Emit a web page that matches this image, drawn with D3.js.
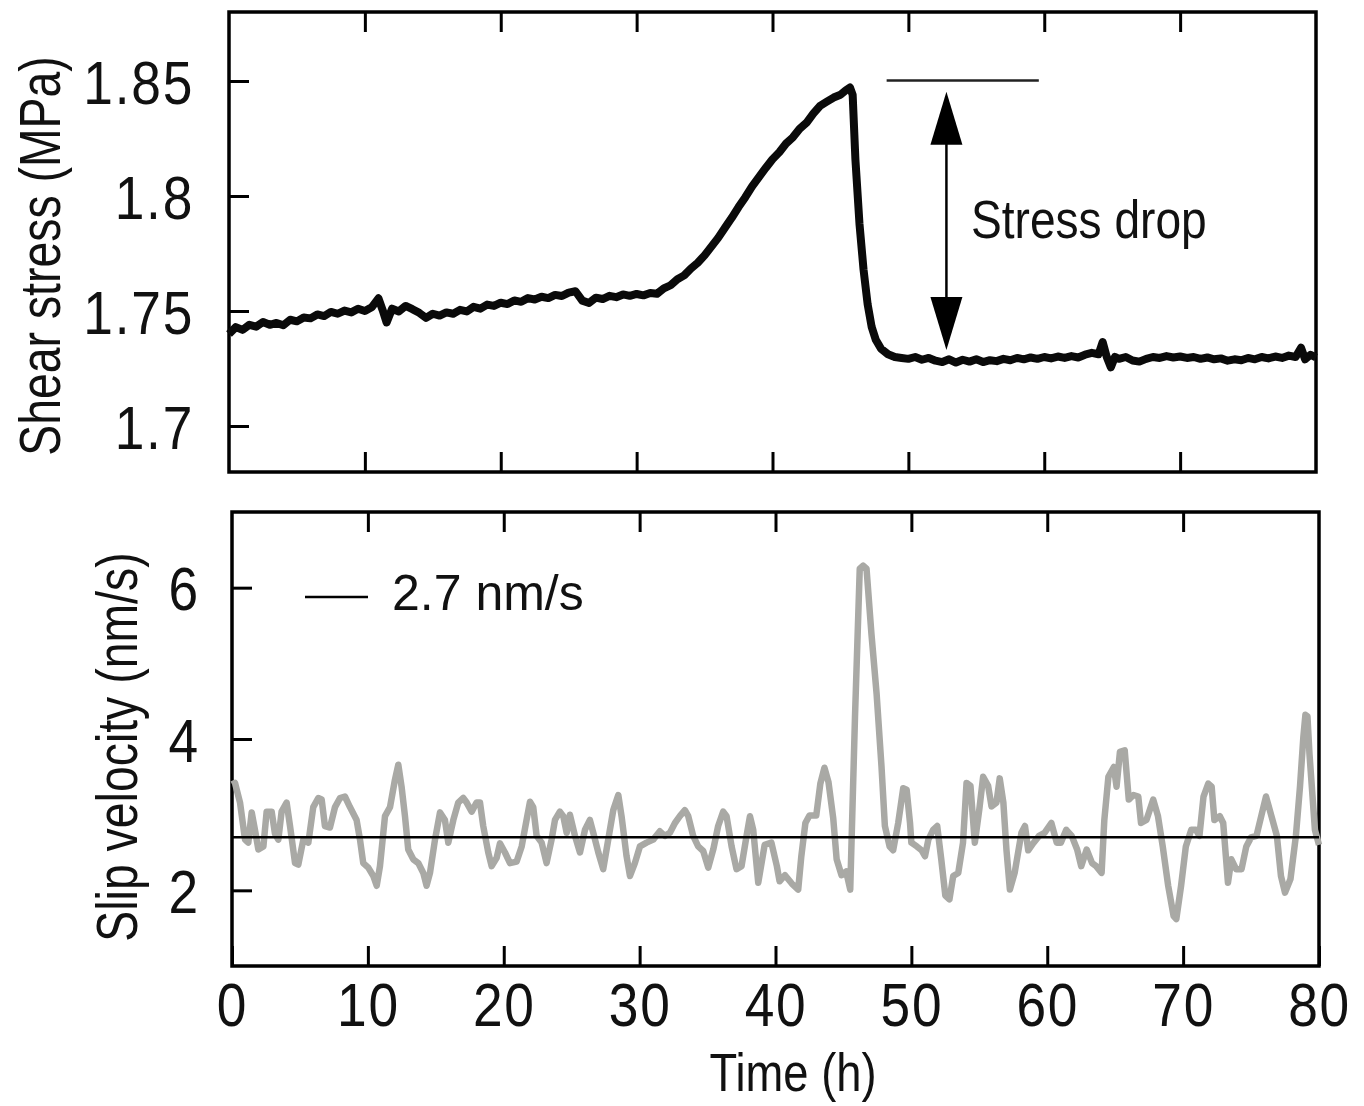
<!DOCTYPE html>
<html lang="en">
<head>
  <meta charset="utf-8">
  <title>Shear stress and slip velocity</title>
  <script src="https://d3js.org/d3.v7.min.js"></script>
  <style>
    body { margin: 0; background: #fff; }
    .frame { fill: none; stroke: #000; stroke-width: 3.5px; }
    .tick line { stroke: #000; stroke-width: 3px; }
    .tick text {
      font-family: "Liberation Sans", Arial, sans-serif;
      font-size: 62px; fill: #111; letter-spacing: 2px;
    }
    .label { font-family: "Liberation Sans", Arial, sans-serif; font-size: 58px; fill: #111; }
    .legend { font-family: "Liberation Sans", Arial, sans-serif; font-size: 50px; fill: #111; }
  </style>
</head>
<body>
<div id="chart"></div>
<script>
var width = 1364,
    height = 1106;

// axis ticks
var timeTicks = [0, 10, 20, 30, 40, 50, 60, 70, 80];
var innerTimeTicks = [10, 20, 30, 40, 50, 60, 70];
var stressTicks = [1.7, 1.75, 1.8, 1.85];
var velocityTicks = [2, 4, 6];

// shear stress (MPa) vs time (h)
var stressTime = [
  0, 0.5, 1, 1.5, 2, 2.5, 3, 3.5, 4, 4.5, 5, 5.5, 6, 6.5, 7, 7.5, 8, 8.5, 9, 9.5,
  10, 10.5, 11, 11.3, 11.6, 12, 12.5, 13, 13.5, 14, 14.5, 15, 15.5, 16, 16.5, 17, 17.5,
  18, 18.5, 19, 19.5, 20, 20.5, 21, 21.5, 22, 22.5, 23, 23.5, 24, 24.5, 25, 25.5, 26,
  26.5, 27, 27.5, 28, 28.5, 29, 29.5, 30, 30.5, 31, 31.5, 32, 32.5, 33, 33.5, 34, 34.5,
  35, 35.5, 36, 36.5, 37, 37.5, 38, 38.5, 39, 39.5, 40, 40.5, 41, 41.5, 42, 42.5, 43,
  43.5, 44, 44.5, 45, 45.4, 45.7, 45.9, 46.1, 46.4, 46.7, 47, 47.3, 47.6, 48, 48.5, 49,
  49.5, 50, 50.5, 51, 51.5, 52, 52.5, 53, 53.5, 54, 54.5, 55, 55.5, 56, 56.5, 57, 57.5,
  58, 58.5, 59, 59.5, 60, 60.5, 61, 61.5, 62, 62.5, 63, 63.5, 64, 64.3, 64.6, 64.9, 65.2,
  65.5, 66, 66.5, 67, 67.5, 68, 68.5, 69, 69.5, 70, 70.5, 71, 71.5, 72, 72.5, 73, 73.5,
  74, 74.5, 75, 75.5, 76, 76.5, 77, 77.5, 78, 78.5, 78.9, 79.2, 79.6, 80
];
var stressValue = [
  1.7400, 1.7430, 1.7418, 1.7440, 1.7432, 1.7452, 1.7440, 1.7448, 1.7438, 1.7462,
  1.7455, 1.7472, 1.7468, 1.7485, 1.7478, 1.7496, 1.7488, 1.7502, 1.7494, 1.7510,
  1.7500, 1.7516, 1.7555, 1.7505, 1.7450, 1.7510, 1.7498, 1.7522, 1.7508, 1.7492,
  1.7470, 1.7488, 1.7480, 1.7494, 1.7488, 1.7505, 1.7498, 1.7518, 1.7510, 1.7528,
  1.7522, 1.7536, 1.7530, 1.7546, 1.7540, 1.7556, 1.7550, 1.7562, 1.7556, 1.7570,
  1.7565, 1.7580, 1.7586, 1.7545, 1.7535, 1.7558, 1.7552, 1.7566, 1.7560, 1.7572,
  1.7566, 1.7574, 1.7568, 1.7578, 1.7575, 1.7598, 1.7612, 1.7638, 1.7655, 1.7685,
  1.7710, 1.7742, 1.7780, 1.7818, 1.7862, 1.7905, 1.7952, 1.7995, 1.8042, 1.8082,
  1.8122, 1.8160, 1.8190, 1.8228, 1.8255, 1.8292, 1.8318, 1.8358, 1.8392, 1.8410,
  1.8428, 1.8440, 1.8460, 1.8472, 1.8440, 1.8160, 1.7880, 1.7680, 1.7530, 1.7430,
  1.7375, 1.7335, 1.7312, 1.7300, 1.7296, 1.7292, 1.7300, 1.7288, 1.7296, 1.7284,
  1.7278, 1.7290, 1.7276, 1.7288, 1.7280, 1.7290, 1.7278, 1.7286, 1.7282, 1.7292,
  1.7286, 1.7296, 1.7290, 1.7298, 1.7292, 1.7300, 1.7294, 1.7302, 1.7296, 1.7304,
  1.7298, 1.7310, 1.7318, 1.7312, 1.7365, 1.7300, 1.7255, 1.7300, 1.7292, 1.7300,
  1.7285, 1.7280, 1.7292, 1.7300, 1.7296, 1.7304, 1.7298, 1.7302, 1.7296, 1.7300,
  1.7292, 1.7298, 1.7290, 1.7294, 1.7284, 1.7290, 1.7286, 1.7296, 1.7290, 1.7300,
  1.7294, 1.7302, 1.7296, 1.7306, 1.7300, 1.7340, 1.7290, 1.7310, 1.7298
];

// slip velocity (nm/s) vs time (h)
var velocityTime = [
  0, 0.22, 0.59, 0.96, 1.2, 1.45, 1.69, 1.94, 2.31, 2.55, 2.92, 3.16, 3.41, 3.65, 4.02,
  4.27, 4.64, 4.88, 5.25, 5.62, 5.98, 6.35, 6.6, 6.84, 7.21, 7.58, 7.95, 8.31, 8.68,
  9.17, 9.42, 9.66, 10.03, 10.4, 10.65, 10.89, 11.26, 11.63, 11.99, 12.24, 12.48, 12.73,
  12.97, 13.34, 13.71, 14.08, 14.32, 14.57, 14.94, 15.31, 15.67, 15.92, 16.29, 16.65,
  17.02, 17.27, 17.64, 18, 18.25, 18.49, 18.86, 19.11, 19.48, 19.72, 20.09, 20.46,
  20.95, 21.32, 21.68, 21.93, 22.17, 22.42, 22.79, 23.15, 23.52, 23.77, 24.13, 24.38,
  24.63, 24.87, 25.24, 25.61, 25.98, 26.34, 26.59, 26.96, 27.32, 27.69, 28.06, 28.43,
  28.67, 29.04, 29.29, 29.65, 30.02, 30.51, 31, 31.49, 31.86, 32.23, 32.6, 32.96, 33.33,
  33.58, 33.94, 34.31, 34.68, 35.05, 35.42, 35.78, 36.15, 36.4, 36.77, 37.13, 37.5,
  37.87, 38.12, 38.36, 38.73, 39.2, 39.7, 40.1, 40.3, 40.7, 41.2, 41.67, 41.9, 42.2,
  42.5, 43, 43.3, 43.6, 43.9, 44.25, 44.5, 44.86, 45.2, 45.5, 45.85, 46.2, 46.45, 46.7,
  47.06, 47.44, 47.8, 48.05, 48.4, 48.66, 49.03, 49.4, 49.65, 49.9, 50, 50.4, 50.75, 51,
  51.25, 51.6, 51.9, 52.2, 52.5, 52.8, 53.08, 53.45, 53.8, 54.06, 54.35, 54.67, 55,
  55.28, 55.65, 55.9, 56.26, 56.5, 56.77, 57, 57.25, 57.6, 58.1, 58.36, 58.6, 59, 59.4,
  59.8, 60.3, 60.7, 61, 61.4, 61.8, 62.2, 62.5, 62.9, 63.3, 63.6, 64, 64.2, 64.5, 64.9,
  65.1, 65.35, 65.7, 66, 66.35, 66.7, 66.9, 67.3, 67.8, 68.15, 68.5, 68.9, 69.3, 69.5,
  69.85, 70.2, 70.6, 70.95, 71.2, 71.5, 71.85, 72.1, 72.3, 72.7, 72.95, 73.3, 73.55,
  73.9, 74.3, 74.65, 75, 75.4, 75.8, 76.1, 76.5, 76.9, 77.2, 77.5, 77.9, 78.3, 78.6,
  78.85, 79, 79.15, 79.3, 79.7, 80
];
var velocityValue = [
  3.40, 3.42, 3.16, 2.67, 2.63, 3.03, 2.80, 2.54, 2.58, 3.04, 3.04, 2.75, 2.67, 3.04, 3.16,
  2.85, 2.36, 2.34, 2.67, 2.63, 3.10, 3.22, 3.20, 2.85, 2.83, 3.10, 3.22, 3.24, 3.10,
  2.93, 2.67, 2.36, 2.30, 2.19, 2.06, 2.32, 2.98, 3.10, 3.46, 3.66, 3.37, 2.98,
  2.54, 2.41, 2.36, 2.23, 2.06, 2.23, 2.67, 3.03, 2.93, 2.63, 2.93, 3.16,
  3.22, 3.16, 3.04, 3.16, 3.16, 2.85, 2.50, 2.32, 2.43, 2.62, 2.50, 2.36,
  2.38, 2.58, 2.93, 3.17, 3.10, 2.72, 2.63, 2.36, 2.67, 2.93, 3.04, 2.98,
  2.76, 3.00, 2.72, 2.50, 2.80, 2.93, 2.76, 2.50, 2.28, 2.67, 3.06, 3.26,
  2.98, 2.45, 2.19, 2.36, 2.58, 2.63, 2.67, 2.78, 2.72, 2.76, 2.89, 2.98, 3.06,
  2.98, 2.72, 2.58, 2.52, 2.30, 2.54, 2.85, 3.04, 2.98, 2.58, 2.28, 2.32,
  2.72, 2.98, 2.80, 2.10, 2.60, 2.63, 2.32, 2.12, 2.20, 2.09, 2.01, 2.45, 2.89,
  2.99, 2.99, 3.41, 3.62, 3.43, 2.95, 2.41, 2.20, 2.25, 2.01, 4.29, 6.25, 6.29, 6.25,
  5.39, 4.60, 3.64, 2.85, 2.58, 2.53, 2.89, 3.35, 3.33, 2.89, 2.63, 2.58, 2.53, 2.45,
  2.67, 2.80, 2.85, 2.41, 1.93, 1.88, 2.19, 2.23, 2.63, 3.42, 3.38, 2.63, 3.07,
  3.50, 3.38, 3.11, 3.16, 3.48, 3.16, 2.53, 2.01, 2.23, 2.76, 2.85, 2.53, 2.63, 2.72,
  2.76, 2.89, 2.63, 2.63, 2.80, 2.72, 2.54, 2.32, 2.54, 2.36, 2.32, 2.23, 2.93, 3.50, 3.63,
  3.37, 3.83, 3.85, 3.20, 3.26, 3.24, 2.89, 2.93, 3.20, 2.98, 2.58, 2.06, 1.66, 1.62,
  2.06, 2.58, 2.80, 2.80, 2.72, 3.24, 3.41, 3.37, 2.93, 2.98, 2.89, 2.10, 2.41,
  2.28, 2.28, 2.58, 2.70, 2.72, 3.02, 3.24, 2.98, 2.72, 2.19, 1.97, 2.15, 2.72, 3.37,
  4.03, 4.32, 4.30, 3.80, 2.80, 2.60
];
var meanVelocity = 2.7;

// stress drop marker: level of the peak and the arrow span
var dropLevel = 1.8502,
    dropLineTime = [48.4, 59.6],
    dropArrowTime = 52.8,
    dropArrowSpan = [1.8453, 1.733];

var svg = d3.select("#chart")
    .append("svg")
    .attr("width", width)
    .attr("height", height);

// the printed figure uses a condensed sans: squeeze text horizontally
function squeeze(texts, s) {
    texts.each(function() {
        var t = d3.select(this),
            x = +t.attr("x") || 0,
            y = +t.attr("y") || 0;
        t.attr("x", 0).attr("y", 0)
         .attr("transform", "translate(" + x + "," + y + ") scale(" + s + ",1)");
    });
}

// ---- top panel: shear stress ----
var pTop = { left: 229, right: 1316, top: 12, bottom: 472 };
var xTop = d3.scaleLinear().domain([0, 80]).range([pTop.left, pTop.right]);
var yTop = d3.scaleLinear().domain([1.68, 1.88]).range([pTop.bottom, pTop.top]);

svg.append("g")
    .attr("transform", "translate(0," + pTop.bottom + ")")
    .call(d3.axisBottom(xTop).tickValues(innerTimeTicks).tickSize(-20).tickSizeOuter(0).tickFormat(""))
    .call(function(g) { g.select(".domain").remove(); });
svg.append("g")
    .attr("transform", "translate(0," + pTop.top + ")")
    .call(d3.axisTop(xTop).tickValues(innerTimeTicks).tickSize(-20).tickSizeOuter(0).tickFormat(""))
    .call(function(g) { g.select(".domain").remove(); });
svg.append("g")
    .attr("transform", "translate(" + pTop.left + ",0)")
    .call(d3.axisLeft(yTop).tickValues(stressTicks).tickSize(-20).tickSizeOuter(0).tickPadding(35)
        .tickFormat(function(d) { return String(d); }))
    .call(function(g) { g.select(".domain").remove(); })
    .selectAll("text").attr("dy", "0.36em")
    .call(squeeze, 0.86);

svg.append("rect")
    .attr("class", "frame")
    .attr("x", pTop.left).attr("y", pTop.top)
    .attr("width", pTop.right - pTop.left).attr("height", pTop.bottom - pTop.top);

var stressLine = d3.line()
    .x(function(d) { return xTop(d[0]); })
    .y(function(d) { return yTop(d[1]); });

svg.append("path")
    .datum(d3.zip(stressTime, stressValue))
    .attr("d", stressLine)
    .attr("fill", "none")
    .attr("stroke", "#0a0a0a")
    .attr("stroke-width", 8)
    .attr("stroke-linejoin", "round");

// stress drop annotation
svg.append("line")
    .attr("x1", xTop(dropLineTime[0])).attr("x2", xTop(dropLineTime[1]))
    .attr("y1", yTop(dropLevel)).attr("y2", yTop(dropLevel))
    .attr("stroke", "#222").attr("stroke-width", 2.5);

var ax = xTop(dropArrowTime),
    aTop = yTop(dropArrowSpan[0]),
    aBot = yTop(dropArrowSpan[1]),
    headLen = 53, headHalf = 16;

svg.append("line")
    .attr("x1", ax).attr("x2", ax)
    .attr("y1", aTop + headLen - 2).attr("y2", aBot - headLen + 2)
    .attr("stroke", "#000").attr("stroke-width", 2.5);
svg.append("path")
    .attr("d", "M" + ax + "," + aTop + "L" + (ax - headHalf) + "," + (aTop + headLen) +
               "L" + (ax + headHalf) + "," + (aTop + headLen) + "Z")
    .attr("fill", "#000");
svg.append("path")
    .attr("d", "M" + ax + "," + aBot + "L" + (ax - headHalf) + "," + (aBot - headLen) +
               "L" + (ax + headHalf) + "," + (aBot - headLen) + "Z")
    .attr("fill", "#000");

svg.append("text")
    .attr("class", "label")
    .attr("transform", "translate(971,238) scale(0.87,1)")
    .style("font-size", "53px")
    .text("Stress drop");

svg.append("text")
    .attr("class", "label")
    .attr("transform", "translate(60," + ((pTop.top + pTop.bottom) / 2 + 14) + ") rotate(-90) scale(0.8,1)")
    .attr("text-anchor", "middle")
    .text("Shear stress (MPa)");

// ---- bottom panel: slip velocity ----
var pBot = { left: 232, right: 1319, top: 512, bottom: 966 };
var xBot = d3.scaleLinear().domain([0, 80]).range([pBot.left, pBot.right]);
var yBot = d3.scaleLinear().domain([1, 7]).range([pBot.bottom, pBot.top]);

svg.append("g")
    .attr("transform", "translate(0," + pBot.bottom + ")")
    .call(d3.axisBottom(xBot).tickValues(timeTicks).tickSize(-20).tickSizeOuter(0).tickPadding(16)
        .tickFormat(function(d) { return String(d); }))
    .call(function(g) { g.select(".domain").remove(); })
    .selectAll("text")
    .call(squeeze, 0.86);
svg.append("g")
    .attr("transform", "translate(0," + pBot.top + ")")
    .call(d3.axisTop(xBot).tickValues(innerTimeTicks).tickSize(-20).tickSizeOuter(0).tickFormat(""))
    .call(function(g) { g.select(".domain").remove(); });
svg.append("g")
    .attr("transform", "translate(" + pBot.left + ",0)")
    .call(d3.axisLeft(yBot).tickValues(velocityTicks).tickSize(-20).tickSizeOuter(0).tickPadding(32)
        .tickFormat(function(d) { return String(d); }))
    .call(function(g) { g.select(".domain").remove(); })
    .selectAll("text").attr("dy", "0.36em")
    .call(squeeze, 0.86);

svg.append("rect")
    .attr("class", "frame")
    .attr("x", pBot.left).attr("y", pBot.top)
    .attr("width", pBot.right - pBot.left).attr("height", pBot.bottom - pBot.top);

var velocityLine = d3.line()
    .x(function(d) { return xBot(d[0]); })
    .y(function(d) { return yBot(d[1]); });

svg.append("path")
    .datum(d3.zip(velocityTime, velocityValue))
    .attr("d", velocityLine)
    .attr("fill", "none")
    .attr("stroke", "#a9a9a5")
    .attr("stroke-width", 6.5)
    .attr("stroke-linejoin", "round");

svg.append("line")
    .attr("x1", xBot(0)).attr("x2", xBot(80))
    .attr("y1", yBot(meanVelocity)).attr("y2", yBot(meanVelocity))
    .attr("stroke", "#000").attr("stroke-width", 2.5);

// legend
svg.append("line")
    .attr("x1", 305).attr("x2", 368)
    .attr("y1", 597).attr("y2", 597)
    .attr("stroke", "#000").attr("stroke-width", 2.5);
svg.append("text")
    .attr("class", "legend")
    .attr("x", 392).attr("y", 610)
    .text(meanVelocity + " nm/s");

svg.append("text")
    .attr("class", "label")
    .attr("transform", "translate(137," + ((pBot.top + pBot.bottom) / 2 + 8) + ") rotate(-90) scale(0.8,1)")
    .attr("text-anchor", "middle")
    .text("Slip velocity (nm/s)");

svg.append("text")
    .attr("class", "label")
    .attr("transform", "translate(793,1091) scale(0.84,1)")
    .attr("text-anchor", "middle")
    .style("font-size", "54px")
    .text("Time (h)");
</script>
</body>
</html>
